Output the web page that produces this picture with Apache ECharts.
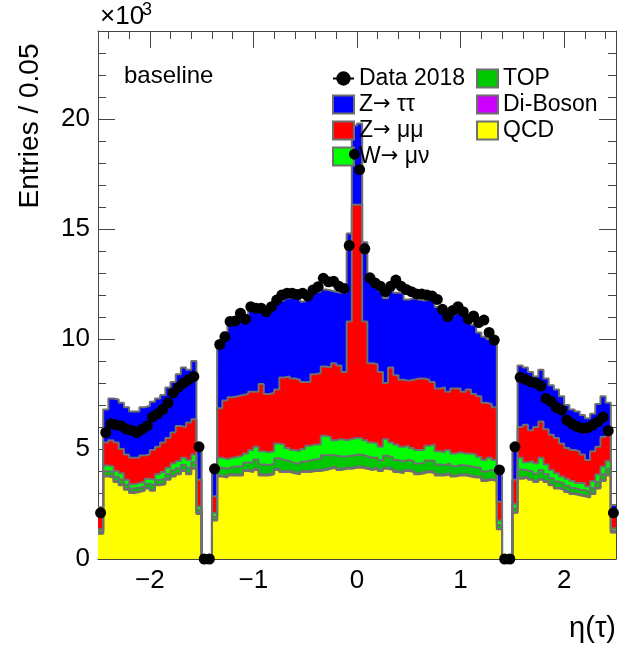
<!DOCTYPE html>
<html><head><meta charset="utf-8">
<script src="https://cdn.jsdelivr.net/npm/echarts@6/dist/echarts.min.js"></script>
<style>html,body{margin:0;padding:0;background:#fff}#c{width:619px;height:646px}</style>
</head><body><div id="c"></div>
<script>
// ---- binning / axis ticks ----
const ETA_MIN = -2.5, ETA_MAX = 2.5, BIN_WIDTH = 0.05, N_BINS = 100;
const xMajorTicks = [-2, -1, 0, 1, 2];
const xMinorTicks = [-2.4,-2.2,-1.8,-1.6,-1.4,-1.2,-0.8,-0.6,-0.4,-0.2,0.2,0.4,0.6,0.8,1.2,1.4,1.6,1.8,2.2,2.4];
const yMajorTicks = [0, 5, 10, 15, 20];
const yMinorTicks = [1,2,3,4,6,7,8,9,11,12,13,14,16,17,18,19,21,22,23,24];

// ---- per-bin contents, units of 10^3 entries ----
const qcd = [
1.15,3.75,3.70,3.50,3.35,3.15,3.00,3.05,3.10,3.20,
3.10,3.35,3.40,3.60,3.75,3.85,4.00,3.85,4.10,2.05,
0,0,1.75,3.75,3.70,3.80,3.80,3.80,4.00,3.95,
4.05,3.80,3.80,3.85,4.05,3.95,3.95,3.90,3.85,3.95,
3.95,4.00,4.00,4.05,4.10,4.15,4.05,4.10,4.10,4.15,
4.15,4.10,4.05,4.10,4.00,4.10,4.05,3.95,3.90,4.00,
3.95,3.85,3.90,3.95,3.90,3.80,3.80,3.85,3.75,3.80,
3.80,3.75,3.70,3.70,3.55,3.60,3.55,1.35,0,0,
2.10,3.65,3.70,3.60,3.50,3.60,3.50,3.35,3.20,3.15,
3.05,2.95,2.90,2.85,2.80,2.95,3.20,3.55,3.80,1.20];
const diboson = [
0.02,0.04,0.04,0.04,0.04,0.04,0.04,0.04,0.04,0.04,
0.04,0.04,0.04,0.04,0.04,0.04,0.04,0.04,0.04,0.03,
0,0,0.03,0.05,0.05,0.05,0.05,0.05,0.05,0.05,
0.05,0.05,0.05,0.05,0.05,0.05,0.05,0.05,0.05,0.05,
0.05,0.05,0.05,0.05,0.05,0.05,0.05,0.05,0.05,0.05,
0.05,0.05,0.05,0.05,0.05,0.05,0.05,0.05,0.05,0.05,
0.05,0.05,0.05,0.05,0.05,0.05,0.05,0.05,0.05,0.05,
0.05,0.05,0.05,0.05,0.05,0.05,0.05,0.03,0,0,
0.03,0.04,0.04,0.04,0.04,0.04,0.04,0.04,0.04,0.04,
0.04,0.04,0.04,0.04,0.04,0.04,0.04,0.04,0.04,0.02];
const topq = [
0.08,0.20,0.20,0.20,0.22,0.18,0.16,0.16,0.16,0.18,
0.20,0.20,0.22,0.22,0.24,0.24,0.24,0.26,0.26,0.14,
0,0,0.14,0.35,0.35,0.33,0.35,0.37,0.33,0.40,
0.42,0.45,0.42,0.42,0.48,0.50,0.45,0.42,0.42,0.42,
0.48,0.48,0.48,0.62,0.58,0.50,0.56,0.52,0.54,0.54,
0.54,0.52,0.50,0.46,0.44,0.54,0.50,0.50,0.48,0.46,
0.44,0.44,0.42,0.48,0.52,0.44,0.42,0.44,0.42,0.42,
0.40,0.42,0.42,0.38,0.38,0.40,0.38,0.16,0,0,
0.16,0.38,0.28,0.34,0.34,0.40,0.32,0.28,0.28,0.24,
0.24,0.24,0.22,0.24,0.20,0.24,0.26,0.26,0.26,0.08];
const wmunu = [
0.10,0.26,0.26,0.26,0.29,0.23,0.20,0.20,0.20,0.23,
0.26,0.26,0.29,0.29,0.32,0.32,0.32,0.35,0.35,0.18,
0,0,0.18,0.45,0.45,0.42,0.45,0.48,0.42,0.55,
0.58,0.60,0.58,0.58,0.67,0.70,0.60,0.58,0.58,0.58,
0.67,0.67,0.67,0.88,0.82,0.70,0.79,0.73,0.76,0.76,
0.76,0.73,0.70,0.64,0.61,0.76,0.70,0.70,0.67,0.64,
0.61,0.61,0.58,0.67,0.73,0.61,0.58,0.61,0.58,0.58,
0.55,0.58,0.58,0.52,0.52,0.55,0.52,0.21,0,0,
0.21,0.53,0.38,0.47,0.47,0.56,0.44,0.38,0.38,0.32,
0.32,0.32,0.29,0.32,0.26,0.32,0.35,0.35,0.35,0.10];
const zmumu = [
0.60,1.05,1.20,1.30,1.10,1.15,1.20,1.15,1.20,1.10,
1.35,1.25,1.35,1.35,1.40,1.60,1.40,1.70,1.60,1.20,
0,0,0.75,2.25,2.65,2.75,2.75,2.75,2.70,2.65,
2.50,3.05,2.65,2.65,2.45,3.05,3.25,3.25,3.25,3.05,
2.90,3.20,3.25,3.15,3.15,3.50,3.35,3.10,5.35,10.60,
10.60,5.40,3.60,3.60,3.40,2.55,3.40,3.15,3.05,2.95,
3.10,3.25,3.25,3.00,2.85,2.85,2.95,2.65,2.95,2.90,
2.80,2.90,2.75,2.75,2.60,2.45,2.40,0.85,0,0,
1.10,1.40,1.70,1.40,1.65,1.65,1.60,1.60,1.60,1.50,
1.40,1.40,1.45,1.30,1.20,1.35,1.25,1.35,1.35,0.55];
const ztautau = [
0.40,1.50,1.90,1.95,2.10,2.15,2.10,2.10,2.20,2.20,
2.20,2.20,2.15,2.30,2.30,2.35,2.70,2.40,2.65,1.40,
0,0,1.15,3.00,3.10,3.40,3.45,3.40,3.45,3.70,
3.65,3.25,3.65,3.80,3.90,3.50,3.55,3.70,3.75,3.65,
3.80,3.65,3.70,3.50,3.50,3.25,3.30,3.60,4.00,3.60,
3.70,3.60,3.85,3.70,3.70,3.85,3.50,3.75,3.95,3.70,
3.70,3.60,3.55,3.65,3.70,3.70,3.40,3.40,3.35,3.45,
3.50,3.25,3.15,2.90,3.00,2.95,3.05,1.40,0,0,
1.50,2.80,2.60,2.65,2.30,2.35,2.30,2.25,2.20,2.15,
1.95,1.85,1.80,1.80,1.90,1.70,1.95,1.85,1.30,0.50];
const data2018 = [
2.10,5.75,6.15,6.10,6.05,5.90,5.85,5.75,5.90,6.05,
6.45,6.60,6.80,7.10,7.55,7.80,8.00,8.15,8.30,5.10,
0,0,4.10,9.75,10.10,10.80,10.82,11.17,10.90,11.47,
11.40,11.40,11.25,11.47,11.77,12.00,12.08,12.08,12.02,12.08,
11.95,12.23,12.38,12.76,12.60,12.62,12.40,12.30,14.25,18.40,
17.70,14.10,12.78,12.55,12.40,12.15,12.40,12.68,12.40,12.25,
12.15,12.05,12.05,12.00,11.95,11.80,11.35,11.02,11.30,11.47,
11.24,10.90,11.05,10.75,10.86,10.30,9.95,4.05,0,0,
5.10,8.26,8.17,8.06,8.00,7.86,7.30,7.15,6.89,6.77,
6.32,6.14,6.02,5.94,5.97,6.09,6.24,6.45,5.83,2.10];

const names  = ['QCD', 'Di-Boson', 'TOP', 'W\u2192 \u03bc\u03bd', 'Z\u2192 \u03bc\u03bc', 'Z\u2192 \u03c4\u03c4'];
const colors = ['#ffff00', '#cc00ff', '#00c800', '#00ff00', '#ff0000', '#0000ff'];
const OUTLINE = '#6f6f6f';
const FONT = "'Liberation Sans', Arial, Helvetica, sans-serif";

// ---- build stacked histograms ----
const layers = [qcd, diboson, topq, wmunu, zmumu, ztautau];
const r3 = v => Math.round(v * 1000) / 1000;
const edge = i => r3(ETA_MIN + i * BIN_WIDTH);
const center = i => r3(ETA_MIN + (i + 0.5) * BIN_WIDTH);
const cum = [];
layers.forEach((arr, k) => {
  cum.push(arr.map((v, i) => r3(v + (k > 0 ? cum[k - 1][i] : 0))));
});
function stepData(vals) {
  const out = [];
  for (let i = 0; i < N_BINS; i++) out.push([edge(i), vals[i]]);
  out.push([edge(N_BINS), vals[N_BINS - 1]]);
  return out;
}

const series = [];
for (let k = layers.length - 1; k >= 0; k--) {
  series.push({
    type: 'line', name: names[k], data: stepData(cum[k]), step: 'end',
    symbol: 'none', lineStyle: { width: 0 }, itemStyle: { color: colors[k] },
    areaStyle: { color: colors[k], opacity: 1 }, z: 2, silent: true
  });
}
for (let k = layers.length - 1; k >= 0; k--) {
  series.push({
    type: 'line', name: 'outline' + k, data: stepData(cum[k]), step: 'end',
    symbol: 'none', lineStyle: { width: 2, color: OUTLINE }, z: 3, silent: true
  });
}
series.push({
  type: 'line', name: 'Data 2018',
  data: data2018.map((v, i) => [center(i), v]),
  symbol: 'circle', symbolSize: 11, showSymbol: true,
  itemStyle: { color: '#000' }, lineStyle: { width: 0, color: '#000' }, z: 5, clip: false
});

const axisCol = '#454545';
function xAx(pos, ticks, len, line, labels) {
  return {
    type: 'value', min: ETA_MIN, max: ETA_MAX, position: pos,
    axisLine: { show: line, onZero: false, lineStyle: { color: axisCol, width: 1 } },
    axisTick: { show: true, inside: true, length: len, customValues: ticks, lineStyle: { color: axisCol, width: 1 } },
    axisLabel: labels ? {
      show: true, customValues: xMajorTicks, margin: 9, color: '#000', fontSize: 26, fontFamily: FONT,
      formatter: v => String(v).replace('-', '\u2212')
    } : { show: false },
    splitLine: { show: false }
  };
}
function yAx(pos, ticks, len, line, labels) {
  return {
    type: 'value', min: 0, max: 24, position: pos,
    axisLine: { show: line, onZero: false, lineStyle: { color: axisCol, width: 1 } },
    axisTick: { show: true, inside: true, length: len, customValues: ticks, lineStyle: { color: axisCol, width: 1 } },
    axisLabel: labels ? {
      show: true, customValues: yMajorTicks, margin: 8, color: '#000', fontSize: 26, fontFamily: FONT,
      formatter: v => String(v)
    } : { show: false },
    splitLine: { show: false }
  };
}

const legendText = {
  color: '#000', fontSize: 23, fontFamily: FONT, lineHeight: 22,
  rich: { arr: { fontFamily: "'DejaVu Sans'", fontSize: 21, color: '#000', lineHeight: 22 } }
};
const legendFmt = n => n.replace('\u2192', '{arr|\u2192}');
const rectItem = n => ({ name: n, icon: 'rect', itemStyle: { borderColor: OUTLINE, borderWidth: 2 } });

const option = {
  animation: false,
  backgroundColor: '#fff',
  grid: { left: 98, right: 3, top: 31, bottom: 87, containLabel: false, outerBoundsMode: 'none' },
  xAxis: [
    xAx('bottom', xMajorTicks, 17, true, true),
    xAx('bottom', xMinorTicks, 8, false, false),
    xAx('top', xMajorTicks, 17, true, false),
    xAx('top', xMinorTicks, 8, false, false)
  ],
  yAxis: [
    yAx('left', yMajorTicks, 17, true, true),
    yAx('left', yMinorTicks, 8, false, false),
    yAx('right', yMajorTicks, 17, true, false),
    yAx('right', yMinorTicks, 8, false, false)
  ],
  legend: [
    {
      left: 327, top: 62, orient: 'vertical', itemWidth: 21, itemHeight: 18, itemGap: 3,
      textStyle: legendText, formatter: legendFmt, selectedMode: false,
      lineStyle: { width: 2, color: '#000', opacity: 1 },
      data: [{ name: 'Data 2018' }, rectItem(names[5]), rectItem(names[4]), rectItem(names[3])]
    },
    {
      left: 471, top: 62, orient: 'vertical', itemWidth: 21, itemHeight: 18, itemGap: 3,
      textStyle: legendText, formatter: legendFmt, selectedMode: false,
      data: [rectItem(names[2]), rectItem(names[1]), rectItem(names[0])]
    }
  ],
  graphic: [
    { type: 'text', left: 124, top: 64, style: { text: 'baseline', font: '24px ' + FONT, fill: '#000' } },
    { type: 'text', left: 100, top: 4, style: { text: '\u00d710', font: '26px ' + FONT, fill: '#000' } },
    { type: 'text', left: 142, top: 1, style: { text: '3', font: '18px ' + FONT, fill: '#000' } },
    { type: 'text', x: 30, y: 126, rotation: Math.PI / 2,
      style: { text: 'Entries / 0.05', font: '28px ' + FONT, fill: '#000', align: 'center', verticalAlign: 'middle' } },
    { type: 'text', right: 3, top: 614, style: { text: '\u03b7(\u03c4)', font: '29px ' + FONT, fill: '#000' } }
  ],
  series: series
};

const chart = echarts.init(document.getElementById('c'), null, { renderer: 'canvas' });
chart.setOption(option);
</script>
</body></html>
